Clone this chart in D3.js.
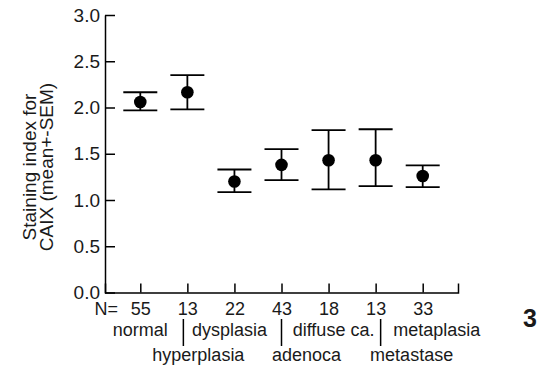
<!DOCTYPE html>
<html>
<head>
<meta charset="utf-8">
<script src="https://cdn.jsdelivr.net/npm/d3@7/dist/d3.min.js"></script>
<style>
  body { margin: 0; background: #fff; }
  text { font-family: "Liberation Sans", Arial, sans-serif; fill: #1a1a1a; }
</style>
</head>
<body>
<script>
// 画布大小
var w = 540;
var h = 369;

// 数据
var groups = ["normal", "hyperplasia", "dysplasia", "adenoca", "diffuse ca.", "metastase", "metaplasia"];
var counts = [55, 13, 22, 43, 18, 13, 33];
var means = [2.06, 2.165, 1.20, 1.38, 1.43, 1.43, 1.26];
var upper = [2.165, 2.35, 1.33, 1.55, 1.755, 1.765, 1.375];
var lower = [1.97, 1.98, 1.085, 1.215, 1.115, 1.15, 1.14];
var yTicks = [0, 0.5, 1, 1.5, 2, 2.5, 3];

// 比例尺
var x = d3.scalePoint()
    .domain(groups)
    .range([105, 458])
    .padding(0.75);

var y = d3.scaleLinear()
    .domain([0, 3])
    .range([292.5, 15]);

var svg = d3.select("body").append("svg")
    .attr("width", w)
    .attr("height", h);

// y轴
svg.append("g")
    .attr("transform", "translate(105,0)")
    .call(d3.axisLeft(y)
        .tickValues(yTicks)
        .tickFormat(d3.format(".1f"))
        .tickSizeInner(-10)
        .tickSizeOuter(0)
        .tickPadding(5))
    .call(function (g) {
        g.selectAll("path, line").attr("stroke", "#000").attr("stroke-width", 1.5);
        g.selectAll("text").attr("font-size", 19).attr("font-family", null).attr("fill", null);
    });

// x轴
svg.append("g")
    .attr("transform", "translate(0,292.5)")
    .call(d3.axisBottom(x)
        .tickFormat(function (d, i) { return counts[i]; })
        .tickSizeInner(-9)
        .tickSizeOuter(-9)
        .tickPadding(10))
    .call(function (g) {
        g.selectAll("path, line").attr("stroke", "#000").attr("stroke-width", 1.5);
        g.selectAll("text").attr("font-size", 18).attr("font-family", null).attr("fill", null);
    });

svg.append("text")
    .attr("x", 118)
    .attr("y", 315)
    .attr("text-anchor", "end")
    .attr("font-size", 18)
    .text("N=");

// 类别标签：上下两行交错
var rowY = [336, 361];
var labelShift = [0, 11, -5, 25, 5, 36, 14];
groups.forEach(function (g, i) {
    svg.append("text")
        .attr("x", x(g) + labelShift[i])
        .attr("y", rowY[i % 2])
        .attr("text-anchor", "middle")
        .attr("font-size", 18)
        .text(g);
});

// 指向下行标签的竖线
var sepShift = [-4, 0, 5];
[1, 3, 5].forEach(function (i, k) {
    var sx = x(groups[i]) + sepShift[k];
    svg.append("line")
        .attr("x1", sx).attr("x2", sx)
        .attr("y1", 319).attr("y2", 346)
        .attr("stroke", "#000")
        .attr("stroke-width", 1.5);
});

// 误差线
var capW = 17;
var bars = svg.selectAll("g.bar")
    .data(groups)
    .enter()
    .append("g")
    .attr("class", "bar");

bars.append("line")
    .attr("x1", function (d) { return x(d); })
    .attr("x2", function (d) { return x(d); })
    .attr("y1", function (d, i) { return y(upper[i]); })
    .attr("y2", function (d, i) { return y(lower[i]); })
    .attr("stroke", "#000")
    .attr("stroke-width", 1.8);

bars.append("line")
    .attr("x1", function (d) { return x(d) - capW; })
    .attr("x2", function (d) { return x(d) + capW; })
    .attr("y1", function (d, i) { return y(upper[i]); })
    .attr("y2", function (d, i) { return y(upper[i]); })
    .attr("stroke", "#000")
    .attr("stroke-width", 1.8);

bars.append("line")
    .attr("x1", function (d) { return x(d) - capW; })
    .attr("x2", function (d) { return x(d) + capW; })
    .attr("y1", function (d, i) { return y(lower[i]); })
    .attr("y2", function (d, i) { return y(lower[i]); })
    .attr("stroke", "#000")
    .attr("stroke-width", 1.8);

bars.append("circle")
    .attr("cx", function (d) { return x(d); })
    .attr("cy", function (d, i) { return y(means[i]); })
    .attr("r", 6.3)
    .attr("fill", "#000");

// y轴标题
var yTitle = svg.append("text")
    .attr("transform", "translate(0,167) rotate(-90)")
    .attr("text-anchor", "middle")
    .attr("font-size", 19);
yTitle.append("tspan").attr("x", 0).attr("y", 36).text("Staining index for");
yTitle.append("tspan").attr("x", 0).attr("y", 53).text("CAIX (mean+-SEM)");

// 右侧编号
svg.append("text")
    .attr("x", 530)
    .attr("y", 327)
    .attr("text-anchor", "middle")
    .attr("font-size", 25)
    .attr("font-weight", "bold")
    .text("3");
</script>
</body>
</html>
